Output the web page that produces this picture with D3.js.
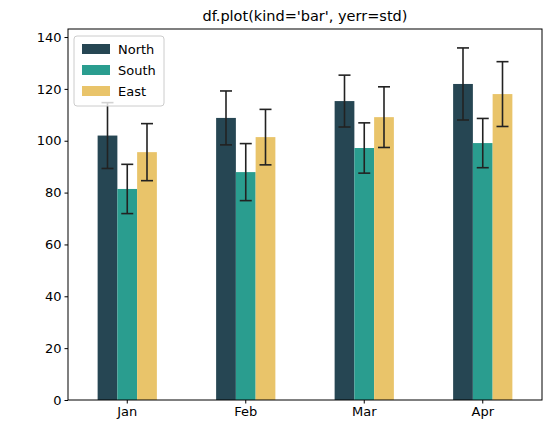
<!DOCTYPE html>
<html><head><meta charset="utf-8">
<script src="https://cdn.jsdelivr.net/npm/d3@7"></script>
<style>body{margin:0;background:#fff;font-family:"DejaVu Sans",sans-serif}</style>
</head><body>
<script>
const months = ['Jan', 'Feb', 'Mar', 'Apr'];
const seriesNames = ['North', 'South', 'East'];
const colors = ['#264653', '#2a9d8f', '#e9c46a'];
const north = [102, 108.8, 115.3, 121.9];
const south = [81.4, 87.9, 97.2, 99.1];
const east = [95.6, 101.4, 109.1, 118];
const northStd = [12.7, 10.4, 10, 13.9];
const southStd = [9.5, 11, 9.7, 9.5];
const eastStd = [11, 10.7, 11.7, 12.5];
const yTicks = [0, 20, 40, 60, 80, 100, 120, 140];

const values = [north, south, east];
const stds = [northStd, southStd, eastStd];

const W = 552, H = 434;
const m = {left: 68, right: 10, top: 29, bottom: 34};
const svg = d3.select('body').append('svg').attr('width', W).attr('height', H);

const x = d3.scaleBand().domain(months).range([m.left, W - m.right]).paddingInner(0.5).paddingOuter(0.25);
const sub = d3.scaleBand().domain(seriesNames).range([0, x.bandwidth()]);
const y = d3.scaleLinear().domain([0, 143.1]).range([H - m.bottom, m.top]);

seriesNames.forEach((s, si) => {
    const g = svg.append('g');
    g.selectAll('rect').data(months).enter().append('rect')
        .attr('x', (d) => x(d) + sub(s))
        .attr('width', sub.bandwidth())
        .attr('y', (d, i) => y(values[si][i]))
        .attr('height', (d, i) => y(0) - y(values[si][i]))
        .attr('fill', colors[si]);
});

seriesNames.forEach((s, si) => {
    const g = svg.append('g').attr('stroke', '#222').attr('stroke-width', 1.6);
    months.forEach((mo, i) => {
        const cx = x(mo) + sub(s) + sub.bandwidth() / 2;
        const hi = y(values[si][i] + stds[si][i]), lo = y(values[si][i] - stds[si][i]);
        g.append('line').attr('x1', cx).attr('x2', cx).attr('y1', hi).attr('y2', lo);
        g.append('line').attr('x1', cx - 6).attr('x2', cx + 6).attr('y1', hi).attr('y2', hi);
        g.append('line').attr('x1', cx - 6).attr('x2', cx + 6).attr('y1', lo).attr('y2', lo);
    });
});

const xa = svg.append('g').attr('transform', `translate(0,${H - m.bottom})`)
    .call(d3.axisBottom(x).tickSize(3.5).tickSizeOuter(0));
const ya = svg.append('g').attr('transform', `translate(${m.left},0)`)
    .call(d3.axisLeft(y).tickValues(yTicks).tickSize(3.5).tickSizeOuter(0));
[xa, ya].forEach((a) => {
    a.selectAll('text').attr('font-size', 13).attr('fill', '#000').attr('font-family', 'DejaVu Sans');
    a.select('.domain').remove();
});

svg.append('rect').attr('x', m.left).attr('y', m.top)
    .attr('width', W - m.right - m.left).attr('height', H - m.bottom - m.top)
    .attr('fill', 'none').attr('stroke', '#000').attr('stroke-width', 1);

svg.append('text').attr('x', (m.left + W - m.right) / 2).attr('y', 21)
    .attr('text-anchor', 'middle').attr('font-size', 14.5).text("df.plot(kind='bar', yerr=std)");

const lg = svg.append('g').attr('transform', `translate(${m.left + 6},${m.top + 7})`);
lg.append('rect').attr('width', 90).attr('height', 70).attr('rx', 3)
    .attr('fill', '#fff').attr('fill-opacity', 0.8).attr('stroke', '#ccc');
seriesNames.forEach((s, i) => {
    lg.append('rect').attr('x', 8).attr('y', 8 + i * 21).attr('width', 28).attr('height', 10).attr('fill', colors[i]);
    lg.append('text').attr('x', 44).attr('y', 18 + i * 21).attr('font-size', 13).text(s);
});
</script>
</body></html>
